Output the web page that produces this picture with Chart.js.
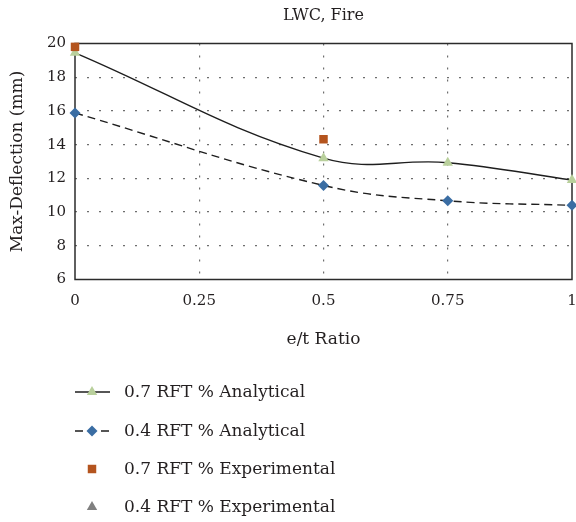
<!DOCTYPE html>
<html>
<head>
<meta charset="utf-8">
<script src="https://cdn.jsdelivr.net/npm/chart.js@4/dist/chart.umd.min.js"></script>
<style>
  html, body { margin: 0; padding: 0; background: #ffffff; }
  canvas { display: block; }
</style>
</head>
<body>
<canvas id="chart" width="576" height="522"></canvas>
<script>
// e/t ratio positions of the analytical results
const ratioAnalytical = [0, 0.5, 0.75, 1];
// Max deflection (mm), analytical model
const rft07Analytical = [19.45, 13.2, 12.93, 11.9];
const rft04Analytical = [15.88, 11.58, 10.67, 10.4];
// e/t ratio positions and max deflection (mm) of the test specimens
const ratioExperimental = [0, 0.5];
const rft07Experimental = [19.8, 14.32];
const rft04Experimental = [];
// Axis ticks
const xTicks = [0, 0.25, 0.5, 0.75, 1];
const xTickLabels = ['0', '0.25', '0.5', '0.75', '1'];
const yTicks = [6, 8, 10, 12, 14, 16, 18, 20];

const SERIF = '"DejaVu Serif", "Liberation Serif", serif';
const TEXT = '#231f20';

const toPoints = (xs, ys) => ys.map((y, i) => ({ x: xs[i], y }));

// Frame around the plotting area, drawn under the markers
const frame = {
  id: 'frame',
  beforeDatasetsDraw(chart) {
    const { ctx, chartArea: a } = chart;
    ctx.save();
    ctx.strokeStyle = '#2b2b2b';
    ctx.lineWidth = 1.5;
    ctx.strokeRect(a.left, a.top, a.right - a.left, a.bottom - a.top);
    ctx.restore();
  }
};

// Vertical legend under the axis title: line sample, marker, label
const stackedLegend = {
  id: 'stackedLegend',
  afterDraw(chart) {
    const ctx = chart.ctx;
    const rows = [392, 431, 469, 507];
    chart.data.datasets.forEach((ds, i) => {
      const y = rows[i];
      ctx.save();
      if (ds.showLine !== false) {
        ctx.strokeStyle = ds.borderColor;
        ctx.lineWidth = ds.borderWidth;
        ctx.setLineDash(ds.borderDash || []);
        ctx.beginPath();
        ctx.moveTo(75, y);
        ctx.lineTo(110, y);
        ctx.stroke();
      }
      ctx.setLineDash([]);
      ctx.fillStyle = ds.pointBackgroundColor;
      Chart.helpers.drawPoint(ctx, {
        pointStyle: ds.pointStyle,
        radius: ds.pointRadius,
        rotation: 0,
        borderWidth: 0
      }, 92, y);
      ctx.fillStyle = TEXT;
      ctx.font = '17px ' + SERIF;
      ctx.textBaseline = 'middle';
      ctx.textAlign = 'left';
      ctx.fillText(ds.label, 124, y + 1);
      ctx.restore();
    });
  }
};

const gridColor = '#6e6e6e';
const dottedBorder = { display: false, dash: [2, 10], dashOffset: 0 };

new Chart(document.getElementById('chart'), {
  type: 'scatter',
  data: {
    datasets: [
      {
        label: '0.7 RFT % Analytical',
        data: toPoints(ratioAnalytical, rft07Analytical),
        showLine: true,
        tension: 0.4,
        borderColor: '#1e1e1e',
        borderWidth: 1.4,
        pointStyle: 'triangle',
        pointRadius: 6,
        pointBackgroundColor: '#b9d09c',
        pointBorderWidth: 0,
        clip: false,
        order: 3
      },
      {
        label: '0.4 RFT % Analytical',
        data: toPoints(ratioAnalytical, rft04Analytical),
        showLine: true,
        tension: 0.4,
        borderColor: '#1e1e1e',
        borderWidth: 1.4,
        borderDash: [8, 5],
        pointStyle: 'rectRot',
        pointRadius: 5.5,
        pointBackgroundColor: '#3a6da3',
        pointBorderWidth: 0,
        clip: false,
        order: 2
      },
      {
        label: '0.7 RFT % Experimental',
        data: toPoints(ratioExperimental, rft07Experimental),
        showLine: false,
        pointStyle: 'rect',
        pointRadius: 6,
        pointBackgroundColor: '#b4541e',
        pointBorderWidth: 0,
        clip: false,
        order: 0
      },
      {
        label: '0.4 RFT % Experimental',
        data: toPoints(ratioExperimental, rft04Experimental),
        showLine: false,
        pointStyle: 'triangle',
        pointRadius: 6,
        pointBackgroundColor: '#808080',
        pointBorderWidth: 0,
        clip: false,
        order: 1
      }
    ]
  },
  options: {
    responsive: false,
    animation: false,
    events: [],
    layout: { autoPadding: false, padding: { left: 0, right: 4, top: 0, bottom: 170 } },
    plugins: {
      legend: { display: false },
      tooltip: { enabled: false },
      title: {
        display: true,
        text: 'LWC, Fire',
        fullSize: false,
        color: TEXT,
        font: { family: SERIF, size: 16, weight: 'normal' },
        padding: { top: 6, bottom: 18.3 }
      }
    },
    scales: {
      x: {
        type: 'linear',
        min: 0,
        max: 1,
        afterBuildTicks(scale) { scale.ticks = xTicks.map(v => ({ value: v })); },
        afterFit(scale) {
          scale.height = 72.5;
          scale.paddingLeft = 0;
          scale.paddingRight = 0;
        },
        border: dottedBorder,
        grid: {
          drawTicks: false,
          lineWidth: 1.2,
          color: ctx => (ctx.tick && (ctx.tick.value === 0 || ctx.tick.value === 1)) ? 'rgba(0,0,0,0)' : gridColor
        },
        ticks: {
          padding: 13,
          color: TEXT,
          maxRotation: 0,
          font: { family: SERIF, size: 15 },
          callback: (v, i) => xTickLabels[i]
        },
        title: {
          display: true,
          text: 'e/t Ratio',
          color: TEXT,
          font: { family: SERIF, size: 17 },
          padding: { top: 0, bottom: 2 }
        }
      },
      y: {
        type: 'linear',
        min: 6,
        max: 20,
        afterBuildTicks(scale) { scale.ticks = yTicks.map(v => ({ value: v })); },
        afterFit(scale) {
          scale.width = 75;
          scale.paddingTop = 0;
          scale.paddingBottom = 0;
        },
        border: dottedBorder,
        grid: {
          drawTicks: false,
          lineWidth: 1.2,
          color: ctx => (ctx.tick && (ctx.tick.value === 6 || ctx.tick.value === 20)) ? 'rgba(0,0,0,0)' : gridColor
        },
        ticks: {
          padding: 9,
          color: TEXT,
          font: { family: SERIF, size: 15 }
        },
        title: {
          display: true,
          text: 'Max-Deflection (mm)',
          color: TEXT,
          font: { family: SERIF, size: 17 },
          padding: { top: 7.8, bottom: 0 }
        }
      }
    }
  },
  plugins: [frame, stackedLegend]
});
</script>
</body>
</html>
